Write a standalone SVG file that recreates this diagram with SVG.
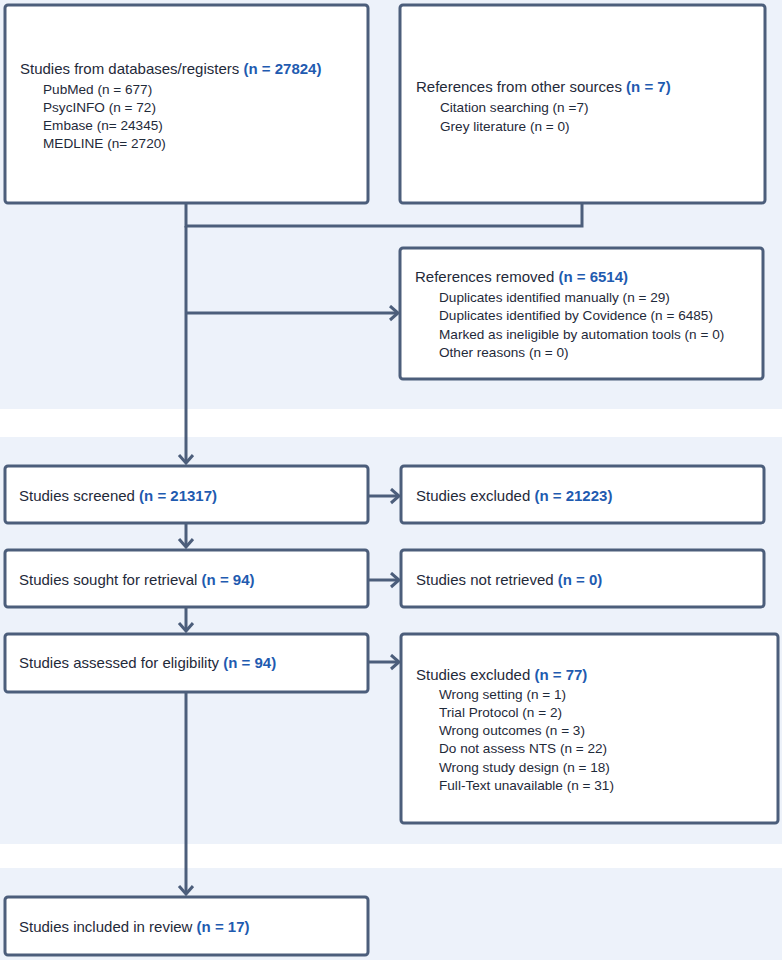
<svg xmlns="http://www.w3.org/2000/svg" width="782" height="960" viewBox="0 0 782 960">
<defs>
<style>
.band{fill:#edf2fa}
.box{fill:#ffffff;stroke:#4c5e7b;stroke-width:3}
.con{fill:none;stroke:#4c5e7b;stroke-width:3}
text{font-family:"Liberation Sans",Arial,sans-serif;font-size:15px;fill:#1f2a3a}
.n{fill:#1f5bb0;font-weight:bold}
.sub{font-size:13.6px}
</style>
<marker id="ah" markerUnits="userSpaceOnUse" markerWidth="20" markerHeight="20" refX="9" refY="8" orient="auto">
<path d="M1,1 L9,8 L1,15" fill="none" stroke="#4c5e7b" stroke-width="3"/>
</marker>
</defs>
<rect width="782" height="960" fill="#ffffff"/>
<rect class="band" x="0" y="0" width="782" height="409"/>
<rect class="band" x="0" y="437" width="782" height="407"/>
<rect class="band" x="0" y="868" width="782" height="92"/>

<g id="connectors">
<path class="con" d="M186,203 V226 H582 V203"/>
<path class="con" d="M186,226 V463" marker-end="url(#ah)"/>
<path class="con" d="M186,313 H398" marker-end="url(#ah)"/>
<path class="con" d="M368,496 H399" marker-end="url(#ah)"/>
<path class="con" d="M186,523 V547" marker-end="url(#ah)"/>
<path class="con" d="M368,580 H399" marker-end="url(#ah)"/>
<path class="con" d="M186,607 V631" marker-end="url(#ah)"/>
<path class="con" d="M368,662 H399" marker-end="url(#ah)"/>
<path class="con" d="M186,692 V894" marker-end="url(#ah)"/>
</g>

<g id="databases">
<rect class="box" x="5" y="5" width="363" height="198" rx="3"/>
<text x="20" y="74">Studies from databases/registers <tspan class="n">(n = 27824)</tspan></text>
<text class="sub" x="43" y="94">PubMed (n = 677)</text>
<text class="sub" x="43" y="112">PsycINFO (n = 72)</text>
<text class="sub" x="43" y="130">Embase (n= 24345)</text>
<text class="sub" x="43" y="148">MEDLINE (n= 2720)</text>
</g>

<g id="other-sources">
<rect class="box" x="400" y="5" width="365" height="198" rx="3"/>
<text x="416" y="92">References from other sources <tspan class="n">(n = 7)</tspan></text>
<text class="sub" x="440" y="112">Citation searching (n =7)</text>
<text class="sub" x="440" y="131">Grey literature (n = 0)</text>
</g>

<g id="removed">
<rect class="box" x="400" y="248" width="363" height="131" rx="3"/>
<text x="415" y="282">References removed <tspan class="n">(n = 6514)</tspan></text>
<text class="sub" x="439" y="302">Duplicates identified manually (n = 29)</text>
<text class="sub" x="439" y="320">Duplicates identified by Covidence (n = 6485)</text>
<text class="sub" x="439" y="339">Marked as ineligible by automation tools (n = 0)</text>
<text class="sub" x="439" y="357">Other reasons (n = 0)</text>
</g>

<g id="screened">
<rect class="box" x="5" y="466" width="363" height="57" rx="3"/>
<text x="19" y="501">Studies screened <tspan class="n">(n = 21317)</tspan></text>
</g>

<g id="excluded1">
<rect class="box" x="401" y="466" width="363" height="57" rx="3"/>
<text x="416" y="501">Studies excluded <tspan class="n">(n = 21223)</tspan></text>
</g>

<g id="sought">
<rect class="box" x="5" y="550" width="363" height="57" rx="3"/>
<text x="19" y="585">Studies sought for retrieval <tspan class="n">(n = 94)</tspan></text>
</g>

<g id="not-retrieved">
<rect class="box" x="401" y="550" width="363" height="57" rx="3"/>
<text x="416" y="585">Studies not retrieved <tspan class="n">(n = 0)</tspan></text>
</g>

<g id="assessed">
<rect class="box" x="5" y="634" width="363" height="58" rx="3"/>
<text x="19" y="668">Studies assessed for eligibility <tspan class="n">(n = 94)</tspan></text>
</g>

<g id="excluded2">
<rect class="box" x="401" y="634" width="377" height="189" rx="3"/>
<text x="416" y="680">Studies excluded <tspan class="n">(n = 77)</tspan></text>
<text class="sub" x="439" y="699">Wrong setting (n = 1)</text>
<text class="sub" x="439" y="717">Trial Protocol (n = 2)</text>
<text class="sub" x="439" y="735">Wrong outcomes (n = 3)</text>
<text class="sub" x="439" y="753">Do not assess NTS (n = 22)</text>
<text class="sub" x="439" y="772">Wrong study design (n = 18)</text>
<text class="sub" x="439" y="790">Full-Text unavailable (n = 31)</text>
</g>

<g id="included">
<rect class="box" x="5" y="897" width="363" height="58" rx="3"/>
<text x="19" y="932">Studies included in review <tspan class="n">(n = 17)</tspan></text>
</g>
</svg>
